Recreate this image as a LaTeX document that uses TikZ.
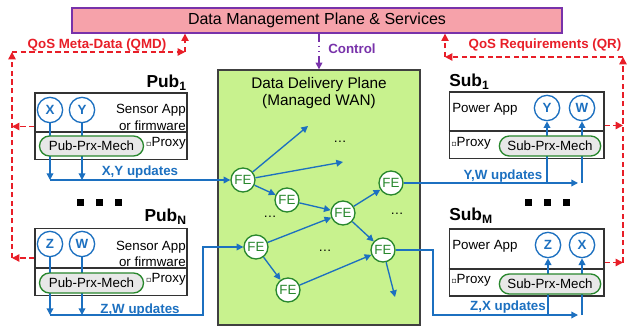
\documentclass[tikz,border=0pt]{standalone}
\usepackage{fontspec}
\setmainfont{Liberation Sans}
\newfontfamily\symfont{DejaVu Sans}
\usetikzlibrary{shapes.misc}
\usetikzlibrary{arrows.meta}
\definecolor{qosred}{RGB}{232,30,40}
\definecolor{flowblue}{RGB}{28,112,192}
\definecolor{fegreen}{RGB}{40,135,45}
\definecolor{ctrlpurple}{RGB}{120,50,170}
\definecolor{mgmtpink}{RGB}{246,162,170}
\definecolor{wangreen}{RGB}{200,242,142}
\newcommand{\fsz}[1]{\fontsize{#1}{#1}\selectfont}
\newcommand{\prx}{{\symfont\fsz{6}▫}Proxy}
\tikzstyle{fe}=[draw=fegreen, circle, fill=white, line width=1pt, inner sep=0pt, minimum size=18pt, text=fegreen, font=\fsz{10}]
\tikzstyle{topic}=[draw=flowblue, circle, fill=white, line width=1pt, inner sep=0pt, minimum size=19pt, text=flowblue, font=\bfseries\fsz{10}]
\tikzstyle{mech}=[draw=fegreen, rounded rectangle, fill=gray!18, line width=1pt, inner sep=1pt, minimum height=15pt, font=\fsz{10}]
\tikzstyle{appbox}=[draw=black!80, line width=1pt, fill=white, minimum height=50pt]
\tikzstyle{flow}=[draw=flowblue, line width=1pt, -{Triangle[length=5pt,width=5pt]}]
\tikzstyle{qos}=[draw=qosred, line width=1.1pt, dash pattern=on 4pt off 2.5pt, -{Triangle[length=5.5pt,width=5.5pt]}]
\tikzstyle{lbl}=[inner sep=0pt, font=\fsz{10}]
\tikzstyle{blbl}=[inner sep=0pt, font=\bfseries\fsz{10}]
\tikzstyle{endpt}=[inner sep=0pt, font=\bfseries\fsz{13}]

\begin{document}
\begin{tikzpicture}[x=0.75pt, y=-0.75pt]
        \useasboundingbox (0,0) rectangle (630,327);
        \node[draw=ctrlpurple, fill=mgmtpink, line width=1pt, minimum width=367.5pt, minimum height=18.75pt, font=\fsz{12}] (mgmt) at (317,20.5) {Data Management Plane \& Services};
        \node[draw=black!75, fill=wangreen, line width=1pt, minimum width=151.5pt, minimum height=191.25pt] (wan) at (319,197.5) {};
        \node[align=center, inner sep=0pt, font=\fsz{11.5}] (wantitle) at (319,93) {Data Delivery Plane\\[1pt](Managed WAN)};
        \draw[ctrlpurple, line width=1pt, dash pattern=on 6pt off 3pt on 1pt off 3pt on 1pt off 3pt, -{Triangle[length=5pt,width=5pt]}] (mgmt.south -| wan.north) -- (wan.north);
        \node[blbl, text=ctrlpurple, anchor=west] (ctrl) at (328,49) {Control};

        \node[fe] (fe1) at (243,180) {FE};
        \node[fe] (fe2) at (287,200) {FE};
        \node[fe] (fe3) at (343,213) {FE};
        \node[fe] (fe4) at (256,247) {FE};
        \node[fe] (fe5) at (288,290) {FE};
        \node[fe] (fe6) at (391,183) {FE};
        \node[fe] (fe7) at (383,250) {FE};
        \coordinate (out1) at (308,126);
        \coordinate (out2) at (343,162);
        \coordinate (out3) at (395,297);
        \draw[flow] (fe1) -- (out1);
        \draw[flow] (fe1) -- (out2);
        \draw[flow] (fe1) -- (fe2);
        \draw[flow] (fe2) -- (fe3);
        \draw[flow] (fe4) -- (fe3);
        \draw[flow] (fe4) -- (fe5);
        \draw[flow] (fe5) -- (fe7);
        \draw[flow] (fe3) -- (fe6);
        \draw[flow] (fe3) -- (fe7);
        \draw[flow] (fe7) -- (out3);
        \node[lbl] (dots1) at (340,142) {\ldots};
        \node[lbl] (dots2) at (270,217) {\ldots};
        \node[lbl] (dots3) at (325,251) {\ldots};
        \node[lbl] (dots4) at (397,214) {\ldots};

        \node[appbox, minimum width=114pt] (pub1) at (111,126.5) {};
        \draw[black!80, line width=1pt] (pub1.west |- 0,132) -- (pub1.east |- 0,132);
        \node[endpt, anchor=south east] (pub1name) at (187,91) {Pub\textsubscript{1}};
        \node[topic] (px) at (50,110) {X};
        \node[topic] (py) at (82,110) {Y};
        \node[lbl, align=right, anchor=east, font=\fontsize{10}{12.5}\selectfont] (pub1app) at (186,117.5) {Sensor App\\or firmware};
        \node[lbl, anchor=east] (pub1prx) at (186,143) {\prx};
        \draw[flow] (px) -- (px |- fe1);
        \draw[flow] (py) -- (py |- fe1);
        \draw[flow] (px |- fe1) -- (fe1);
        \node[mech, minimum width=80pt] (pub1mech) at (91.5,146) {Pub-Prx-Mech};
        \node[blbl, text=flowblue] (xyupd) at (140,172.5) {X,Y updates};

        \node[appbox, minimum width=114pt] (pubn) at (111,262) {};
        \draw[black!80, line width=1pt] (pubn.west |- 0,268) -- (pubn.east |- 0,268);
        \node[endpt, anchor=south east] (pubnname) at (187,225) {Pub\textsubscript{N}};
        \node[topic] (pz) at (50,244) {Z};
        \node[topic] (pw) at (82,244) {W};
        \node[lbl, align=right, anchor=east, font=\fontsize{10}{12.5}\selectfont] (pubnapp) at (186,254) {Sensor App\\or firmware};
        \node[lbl, anchor=east] (pubnprx) at (186,279) {\prx};
        \coordinate (zwturn) at (203,315);
        \draw[flow] (pz) -- (pz |- zwturn);
        \draw[flow] (pw) -- (pw |- zwturn);
        \draw[flow] (pz |- zwturn) -- (zwturn) |- (fe4);
        \node[mech, minimum width=80pt] (pubnmech) at (91.5,283) {Pub-Prx-Mech};
        \node[blbl, text=flowblue] (zwupd) at (140,310) {Z,W updates};

        \node[appbox, minimum width=116pt] (sub1) at (526.5,125.5) {};
        \draw[black!80, line width=1pt] (sub1.west |- 0,131) -- (sub1.east |- 0,131);
        \node[endpt, anchor=south west] (sub1name) at (449,90) {Sub\textsubscript{1}};
        \node[topic] (sy) at (547,108) {Y};
        \node[topic] (sw) at (582,108) {W};
        \node[lbl, anchor=west] (sub1app) at (452,109) {Power App};
        \node[lbl, anchor=west] (sub1prx) at (451,143) {\prx};
        \coordinate (ywend) at (578,183);
        \draw[flow] (fe6) -- (ywend);
        \draw[flow] (sy |- fe6) -- (sy);
        \draw[flow] (sw |- fe6) -- (sw);
        \node[mech, minimum width=78pt] (sub1mech) at (550,146) {Sub-Prx-Mech};
        \node[blbl, text=flowblue] (ywupd) at (503,176) {Y,W updates};

        \node[appbox, minimum width=116pt] (subm) at (526.5,262.5) {};
        \draw[black!80, line width=1pt] (subm.west |- 0,269) -- (subm.east |- 0,269);
        \node[endpt, anchor=south west] (submname) at (449,224) {Sub\textsubscript{M}};
        \node[topic] (sz) at (548,245) {Z};
        \node[topic] (sx) at (582,245) {X};
        \node[lbl, anchor=west] (submapp) at (452,246) {Power App};
        \node[lbl, anchor=west] (submprx) at (451,280) {\prx};
        \coordinate (zxturn) at (433,315);
        \coordinate (zxend) at (578,315);
        \draw[flow] (fe7) -| (zxturn) -- (zxend);
        \draw[flow] (sz |- zxturn) -- (sz);
        \draw[flow] (sx |- zxturn) -- (sx);
        \node[mech, minimum width=78pt] (submmech) at (550,284) {Sub-Prx-Mech};
        \node[blbl, text=flowblue] (zxupd) at (508,307) {Z,X updates};

        \foreach \x in {80,99,118} \fill (\x-3.5,199.5) rectangle ++(7,7);
        \foreach \x in {528,547,566} \fill (\x-3.5,199.5) rectangle ++(7,7);

        \coordinate (qmdtop) at (12,52);
        \coordinate (qmdturn) at (185,52);
        \draw[qos] (pub1.west) -- (pub1.west -| qmdtop);
        \draw[qos] ([yshift=3pt]pubn.west) -- ([yshift=3pt]pubn.west -| qmdtop);
        \draw[qos] ([yshift=3pt]pubn.west -| qmdtop) -- (qmdtop);
        \draw[qos] (qmdtop) -- (qmdturn);
        \draw[qos] (qmdturn) -- (qmdturn |- mgmt.south);
        \node[blbl, text=qosred] (qmd) at (97,45) {QoS Meta-Data (QMD)};

        \coordinate (qrtop) at (623,57);
        \coordinate (qrturn) at (445,57);
        \draw[qos] (sub1.east) -- (sub1.east -| qrtop);
        \draw[qos] (subm.east) -- (subm.east -| qrtop);
        \draw[qos] (subm.east -| qrtop) -- (qrtop);
        \draw[qos] (qrtop) -- (qrturn);
        \draw[qos] (qrturn) -- (qrturn |- mgmt.south);
        \node[blbl, text=qosred] (qr) at (545,45) {QoS Requirements (QR)};
    \end{tikzpicture}
\end{document}
